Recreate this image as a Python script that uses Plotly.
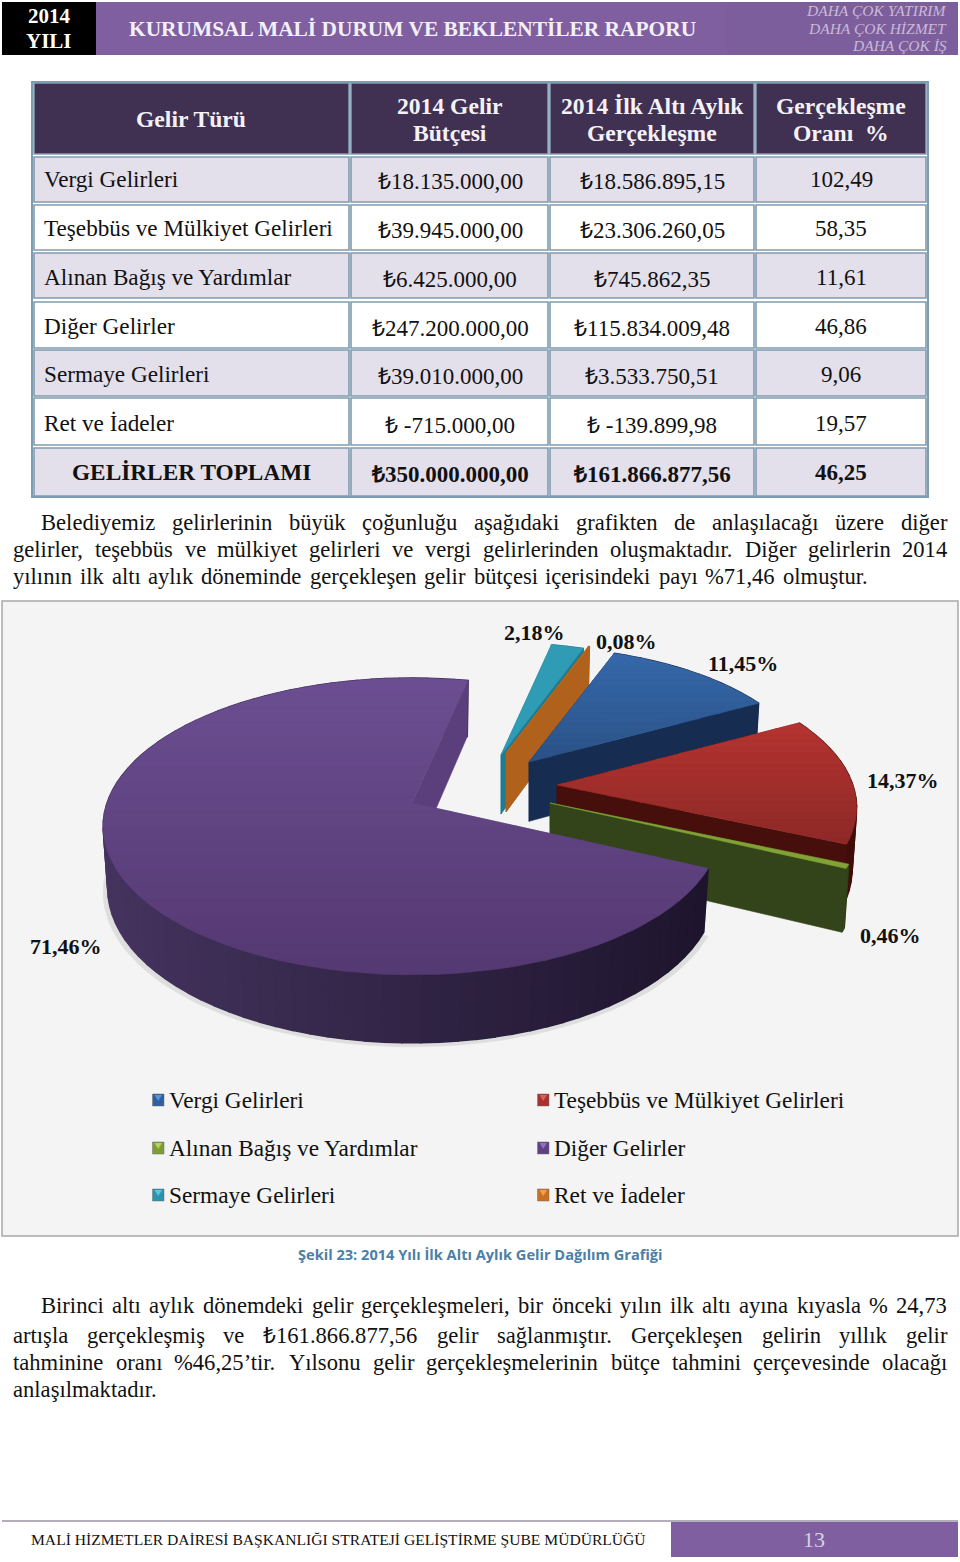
import math
import unicodedata
import plotly.graph_objects as go

# ---------- data ----------
TABLE_HEAD = [["Gelir Türü"], ["2014 Gelir", "Bütçesi"], ["2014 İlk Altı Aylık", "Gerçekleşme"], ["Gerçekleşme", "Oranı  %"]]
GELIR_TURU = ["Vergi Gelirleri", "Teşebbüs ve Mülkiyet Gelirleri", "Alınan Bağış ve Yardımlar",
              "Diğer Gelirler", "Sermaye Gelirleri", "Ret ve İadeler", "GELİRLER TOPLAMI"]
BUTCE = ["₺18.135.000,00", "₺39.945.000,00", "₺6.425.000,00", "₺247.200.000,00",
         "₺39.010.000,00", "₺ -715.000,00", "₺350.000.000,00"]
GERCEKLESME = ["₺18.586.895,15", "₺23.306.260,05", "₺745.862,35", "₺115.834.009,48",
               "₺3.533.750,51", "₺ -139.899,98", "₺161.866.877,56"]
ORAN = ["102,49", "58,35", "11,61", "46,86", "9,06", "19,57", "46,25"]
PIE_LABELS = ["Vergi Gelirleri", "Teşebbüs ve Mülkiyet Gelirleri", "Alınan Bağış ve Yardımlar",
              "Diğer Gelirler", "Sermaye Gelirleri", "Ret ve İadeler"]
PIE_SHARES = [11.45, 14.37, 0.46, 71.46, 2.18, 0.08]
PARA1 = ["Belediyemiz gelirlerinin büyük çoğunluğu aşağıdaki grafikten de anlaşılacağı üzere diğer",
         "gelirler, teşebbüs ve mülkiyet gelirleri ve vergi gelirlerinden oluşmaktadır. Diğer gelirlerin 2014",
         "yılının ilk altı aylık döneminde gerçekleşen gelir bütçesi içerisindeki payı %71,46 olmuştur."]
PARA2 = ["Birinci altı aylık dönemdeki gelir gerçekleşmeleri, bir önceki yılın ilk altı ayına kıyasla % 24,73",
         "artışla gerçekleşmiş ve ₺161.866.877,56 gelir sağlanmıştır. Gerçekleşen gelirin yıllık gelir",
         "tahminine oranı %46,25’tir. Yılsonu gelir gerçekleşmelerinin bütçe tahmini çerçevesinde olacağı",
         "anlaşılmaktadır."]
CAPTION = "Şekil 23: 2014 Yılı İlk Altı Aylık Gelir Dağılım Grafiği"
FOOTER = "MALİ HİZMETLER DAİRESİ BAŞKANLIĞI STRATEJİ GELİŞTİRME ŞUBE MÜDÜRLÜĞÜ"
PAGE_NO = "13"

# ---------- style / layout ----------
SERIF = "Liberation Serif"
PURPLE = "#7f5f9f"
HEAD_BG = "#403152"
ROW_BG = "#e3dfeb"
GRID = "#7f9cb0"
COLS = [33, 350, 549, 755, 927]
ROWS = [(83, 154), (157, 202), (205, 250), (253, 298), (302, 348), (350, 396), (398, 445), (448, 496)]

fig = go.Figure()
shapes, ann = [], []


def rect(x0, y0, x1, y1, fill, line=None, lw=0):
    shapes.append(dict(type="rect", x0=x0, y0=y0, x1=x1, y1=y1, fillcolor=fill, layer="below",
                       line=dict(color=line or fill, width=lw)))


def text(x, y, s, size=22, color="#111111", anchor="center", bold=False, italic=False, family=SERIF):
    if bold:
        s = "<b>" + s + "</b>"
    if italic:
        s = "<i>" + s + "</i>"
    ann.append(dict(x=x, y=y, text=s, xanchor=anchor, yanchor="middle", showarrow=False,
                    borderpad=0, align="center" if anchor == "center" else anchor,
                    font=dict(family=family, size=size, color=color)))


# header
rect(2, 2, 96, 55, "#000000")
rect(96, 2, 727, 55, PURPLE)
rect(727, 2, 958, 55, "#7d5e9c")
text(49, 16, "2014", size=21, color="#ffffff", bold=True)
text(49, 41, "YILI", size=21, color="#ffffff", bold=True)
text(128, 29, "KURUMSAL MALİ DURUM VE BEKLENTİLER RAPORU", size=21.4, color="#f3eff7", anchor="left", bold=True)
for y, s in zip((10, 28, 45), ("DAHA ÇOK YATIRIM", "DAHA ÇOK HİZMET", "DAHA ÇOK İŞ")):
    text(948, y, s, size=15.5, color="#c9b9d9", anchor="right", italic=True)

# table
rect(32, 82, 928, 497, "#ffffff", GRID, 2)
for i, (y0, y1) in enumerate(ROWS):
    for c in range(4):
        fill = HEAD_BG if i == 0 else (ROW_BG if i % 2 == 1 else "#ffffff")
        rect(COLS[c] + 1, y0, COLS[c + 1] - 1, y1, fill, GRID, 1.6)
CX_COL = [191, 450, 652, 841]
for c, lines in enumerate(TABLE_HEAD):
    ys = [119] if len(lines) == 1 else [106, 133]
    for y, s in zip(ys, lines):
        text(CX_COL[c], y, s, size=23.6, color="#f4f1f7", bold=True)
ROW_Y = [179, 228, 277, 326, 374, 423, 472]
for i, y in enumerate(ROW_Y):
    total = i == 6
    if total:
        text(CX_COL[0], y, GELIR_TURU[i], size=23.3, bold=True)
    else:
        text(43, y, GELIR_TURU[i], size=23.2, anchor="left")
    text(CX_COL[1], y + 2, BUTCE[i], size=23, bold=total)
    text(CX_COL[2], y + 2, GERCEKLESME[i], size=23, bold=total)
    text(CX_COL[3], y, ORAN[i], size=23, bold=total)

# justified body text: word positions from Times advance widths
W = dict(a=444, b=500, c=444, d=500, e=444, f=333, g=500, h=500, i=278, j=278, k=500, l=278, m=778, n=500,
         o=500, p=500, q=500, r=333, s=389, t=278, u=500, v=500, w=722, x=500, y=500, z=444,
         A=722, B=667, C=667, D=722, E=611, F=556, G=722, H=722, I=333, J=389, K=722, L=611, M=889, N=722,
         O=722, P=556, Q=722, R=667, S=556, T=611, U=722, V=722, W=944, X=722, Y=722, Z=611)


def word_w(word, size):
    tot = 0
    for ch in word:
        base = unicodedata.normalize("NFD", ch)[0]
        if base == "ı":
            base = "i"
        tot += W.get(base, 833 if ch == "%" else 600 if ch == "₺" else 333 if ch == "’" else
                     250 if ch in ".," else 500)
    return tot * size / 1000


def body(line, y, x0, x1, size=22.6):
    words = line.split(" ")
    ws = [word_w(w, size) for w in words]
    gap = (x1 - x0 - sum(ws)) / (len(words) - 1) if len(words) > 1 else 0
    x = x0
    for w, wd in zip(words, ws):
        text(x, y, w, size=size, color="#111111", anchor="left")
        x += wd + gap


body(PARA1[0], 522, 40, 946)
body(PARA1[1], 549, 12, 946)
body(PARA1[2], 576, 12, 868)
body(PARA2[0], 1305, 40, 946)
body(PARA2[1], 1335, 12, 946)
body(PARA2[2], 1362, 12, 946)
body(PARA2[3], 1389, 12, 162)

# chart panel
rect(2, 601, 958, 1236, "#f4f4f4", "#a8a8a8", 1.5)

# pie geometry: perspective disc, angles from the shares
CX, CY, R, H, K = 412, 803, 305, 144.7, 0.158
START = 20.4
S_OFF = [(117, -41), (145, -18), (138, 0), (0, 0), (89, -48), (94, -50)]
S_SCALE = [0.92, 0.97, 1, 1, 0.9, 0.9]
DRAW_ORDER = [4, 5, 0, 1, 2, 3]
TOP_GRAD = [("#3669ab", "#2b5287"), ("#b63431", "#8d2927"), ("#86a83a", "#7c9c30"),
            ("#6c4f92", "#553972"), ("#33a3bd", "#2d93ab"), ("#c46d1e", "#b9651b")]
WALL_GRAD = [("#16294a", "#1c3358"), ("#4a100c", "#400d0a"), ("#3a4a1b", "#2b3a12"),
             ("#45345f", "#1e152d"), ("#24839a", "#1f7488"), ("#b3631c", "#a85c1a")]
CUT_COL = ["#162c50", "#470f0b", "#33431a", "#5b3f7c", "#1f7b91", "#b0611b"]


def pers(th, sc=1.0):
    a = math.radians(th)
    u, v = math.sin(a), math.cos(a)
    w = 1 + K * v
    return R * sc * u / w, -H * sc * v / w


def depth(y):
    return 56 + 12 * (y - 681) / 294


def drop(p, cx):
    return cx + (p[0] - cx) * 0.985, p[1] + depth(p[1])


def hex2(c):
    return [int(c[i:i + 2], 16) for i in (1, 3, 5)]


def mix(a, b, t):
    t = max(0, min(1, t))
    return "rgb(%d,%d,%d)" % tuple(x + (y - x) * t for x, y in zip(hex2(a), hex2(b)))


def poly(pts, color, lw=0.6):
    xs = [p[0] for p in pts] + [pts[0][0]]
    ys = [p[1] for p in pts] + [pts[0][1]]
    fig.add_trace(go.Scatter(x=xs, y=ys, mode="lines", fill="toself", fillcolor=color,
                             line=dict(color=color, width=lw), hoverinfo="skip", showlegend=False))


def clip(pts, lim, keep_above):
    out = []
    for i, p in enumerate(pts):
        q = pts[(i + 1) % len(pts)]
        pin = p[1] >= lim if keep_above else p[1] <= lim
        qin = q[1] >= lim if keep_above else q[1] <= lim
        if pin:
            out.append(p)
        if pin != qin:
            t = (lim - p[1]) / (q[1] - p[1])
            out.append((p[0] + (q[0] - p[0]) * t, lim))
    return out


angles, acc = [], START
for share in PIE_SHARES:
    angles.append((acc, acc + share * 3.6))
    acc += share * 3.6

# soft shadow under the near part of the big slice
a0, a1 = angles[3]
a1 = min(a1, 290)
n = 70
rim_big = [(CX + pers(a0 + (a1 - a0) * i / n)[0], CY + pers(a0 + (a1 - a0) * i / n)[1]) for i in range(n + 1)]
poly([(p[0], drop(p, CX)[1] + 4) for p in rim_big], "#dedede")

for idx in DRAW_ORDER:
    a0, a1 = angles[idx]
    ox, oy = CX + S_OFF[idx][0], CY + S_OFF[idx][1]
    sc = S_SCALE[idx]
    n = max(2, int((a1 - a0) / 3))
    rim = []
    for i in range(n + 1):
        dx, dy = pers(a0 + (a1 - a0) * i / n, sc)
        rim.append((ox + dx, oy + dy))
    apex = (ox, oy)
    low = [drop(p, ox) for p in rim]
    apex_low = drop(apex, ox)
    # hidden cut face, outer wall shaded left to right, then the visible cut face
    poly([apex, rim[0], low[0], apex_low], CUT_COL[idx])
    c0, c1 = WALL_GRAD[idx]
    xmin, xmax = min(p[0] for p in rim), max(p[0] for p in rim)
    for i in range(n):
        t = ((rim[i][0] + rim[i + 1][0]) / 2 - xmin) / max(1, xmax - xmin)
        poly([rim[i], rim[i + 1], low[i + 1], low[i]], mix(c0, c1, t), lw=1.5)
    poly([apex, rim[-1], low[-1], apex_low], CUT_COL[idx])
    # top face, shaded top to bottom
    top = [apex] + rim
    c0, c1 = TOP_GRAD[idx]
    ymin, ymax = min(p[1] for p in top), max(p[1] for p in top)
    bands = 20 if ymax - ymin > 100 and (a1 - a0) > 20 else 1
    for b in range(bands):
        y0 = ymin + (ymax - ymin) * b / bands
        y1 = ymin + (ymax - ymin) * (b + 1) / bands
        part = clip(clip(top, y0 - 0.3, True), y1 + 0.3, False)
        if part:
            poly(part, mix(c0, c1, (b + 0.5) / bands))

# value labels
LABEL_POS = [(743, 663), (903, 780), (890, 935), (66, 946), (534, 632), (626, 641)]
for share, (x, y) in zip(PIE_SHARES, LABEL_POS):
    text(x, y, ("%.2f%%" % share).replace(".", ","), size=22, bold=True)

# legend
LEG_COL = ["#2f5f9e", "#a83230", "#7f9c35", "#5f4083", "#2b93ad", "#c96f1f"]
LEG_LIGHT = ["#5f93d6", "#dd5f5c", "#b4d163", "#8f6ec0", "#5cc6de", "#f0a050"]
LEG_POS = [(152, 1100), (537, 1100), (152, 1148), (537, 1148), (152, 1195), (537, 1195)]
for name, col, light, (x, y) in zip(PIE_LABELS, LEG_COL, LEG_LIGHT, LEG_POS):
    rect(x + 0.5, y - 6, x + 12, y + 6, col, "#6f6f6f", 0.5)
    shapes.append(dict(type="path", layer="below", fillcolor=light, line=dict(width=0),
                       path="M %g %g L %g %g L %g %g Z" % (x + 2.5, y - 5, x + 10, y - 5, x + 6.2, y + 1)))
    text(x + 15.5, y, name, size=23.3, anchor="left")

text(480, 1254, CAPTION, size=14.6, color="#4c7fa8", bold=True, family="Open Sans")

# footer
shapes.append(dict(type="line", x0=2, x1=958, y0=1521, y1=1521, layer="below",
                   line=dict(color="#b3adbd", width=2)))
rect(671, 1522, 958, 1557, PURPLE)
text(30, 1539, FOOTER, size=15.6, anchor="left")
text(814, 1539, PAGE_NO, size=22, color="#d8cfe6")

fig.update_layout(
    width=960, height=1562, margin=dict(l=0, r=0, t=0, b=0),
    paper_bgcolor="#ffffff", plot_bgcolor="#ffffff", showlegend=False, dragmode=False,
    xaxis=dict(range=[0, 960], visible=False, fixedrange=True),
    yaxis=dict(range=[1562, 0], visible=False, fixedrange=True),
    shapes=shapes, annotations=ann,
)
fig.write_html("out.html", config=dict(displayModeBar=False),
               post_script="document.body.style.margin='0';document.documentElement.style.overflow='hidden';")
